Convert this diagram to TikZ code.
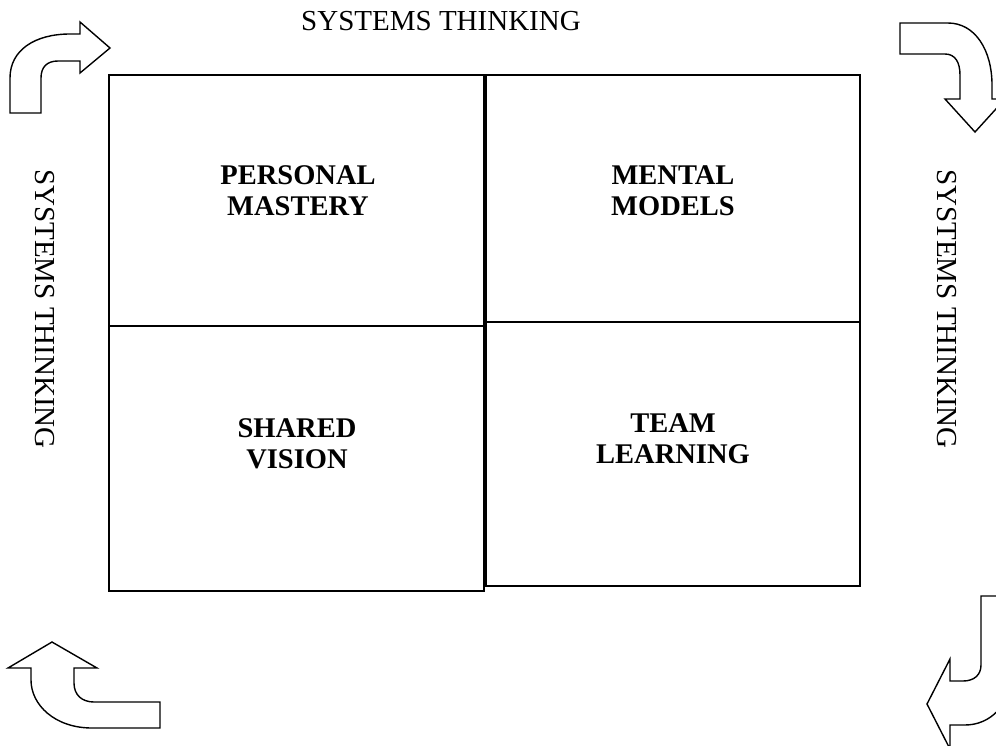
\documentclass[tikz,border=0pt]{standalone}
\usepackage{fontspec}
\setmainfont{Liberation Serif}
\begin{document}
\begin{tikzpicture}[x=1pt,y=-1pt,
  box/.style={draw,line width=1.6pt,rectangle,inner sep=0pt},
  lbl/.style={font=\fontsize{28.5}{31}\selectfont\bfseries,align=center,inner sep=0pt},
  side/.style={font=\fontsize{29}{31}\selectfont,inner sep=0pt},
  bentarrow/.style={draw,line width=1.4pt,line join=miter}]
\useasboundingbox (0,0) rectangle (996,745);
\begin{scope}
\clip (0,0) rectangle (996,745);
% boxes
\node[box,minimum width=375pt,minimum height=251pt] (pm) at (296.5,200.5) {};
\node[box,minimum width=375pt,minimum height=265pt] (sv) at (296.5,458.5) {};
\node[box,minimum width=374pt,minimum height=247pt] (mm) at (673,198.5) {};
\node[box,minimum width=374pt,minimum height=264pt] (tl) at (673,454) {};
% labels
\node[lbl] (pmt) at (298,191) {PERSONAL\\MASTERY};
\node[lbl] (mmt) at (673,191) {MENTAL\\MODELS};
\node[lbl] (svt) at (297,444) {SHARED\\VISION};
\node[lbl] (tlt) at (673,439) {TEAM\\LEARNING};
% side texts
\node[side] (top) at (441,21) {SYSTEMS THINKING};
\node[side,rotate=-90] (left) at (45,309) {SYSTEMS THINKING};
\node[side,rotate=-90] (right) at (947,309) {SYSTEMS THINKING};
% bent arrows
\draw[bentarrow] (10,113) -- (10,78) .. controls (10,50) and (35,34) .. (70,34) -- (80,34) -- (80,22) -- (110,48) -- (80,73) -- (80,61) -- (58,61) .. controls (47,61) and (41,67) .. (41,78) -- (41,113) -- cycle;
\draw[bentarrow] (900,23) -- (948,23) .. controls (975,23) and (992,50) .. (992,85) -- (992,99) -- (1005,99) -- (975,132) -- (945,99) -- (960,99) -- (960,75) .. controls (960,62) and (955,54) .. (945,54) -- (900,54) -- cycle;
\draw[bentarrow] (52,642) -- (97,668) -- (74,668) -- (74,683) .. controls (74,695) and (82,702) .. (94,702) -- (160,702) -- (160,728) -- (92,728) .. controls (55,728) and (31,705) .. (31,680) -- (31,668) -- (8,668) -- cycle;
\draw[bentarrow] (981,596) -- (1012,596) -- (1012,670) .. controls (1012,705) and (990,725) .. (965,725) -- (950,725) -- (950,749) -- (927,704) -- (950,659) -- (950,681) -- (963,681) .. controls (974,681) and (981,675) .. (981,665) -- cycle;
\end{scope}
\end{tikzpicture}
\end{document}
